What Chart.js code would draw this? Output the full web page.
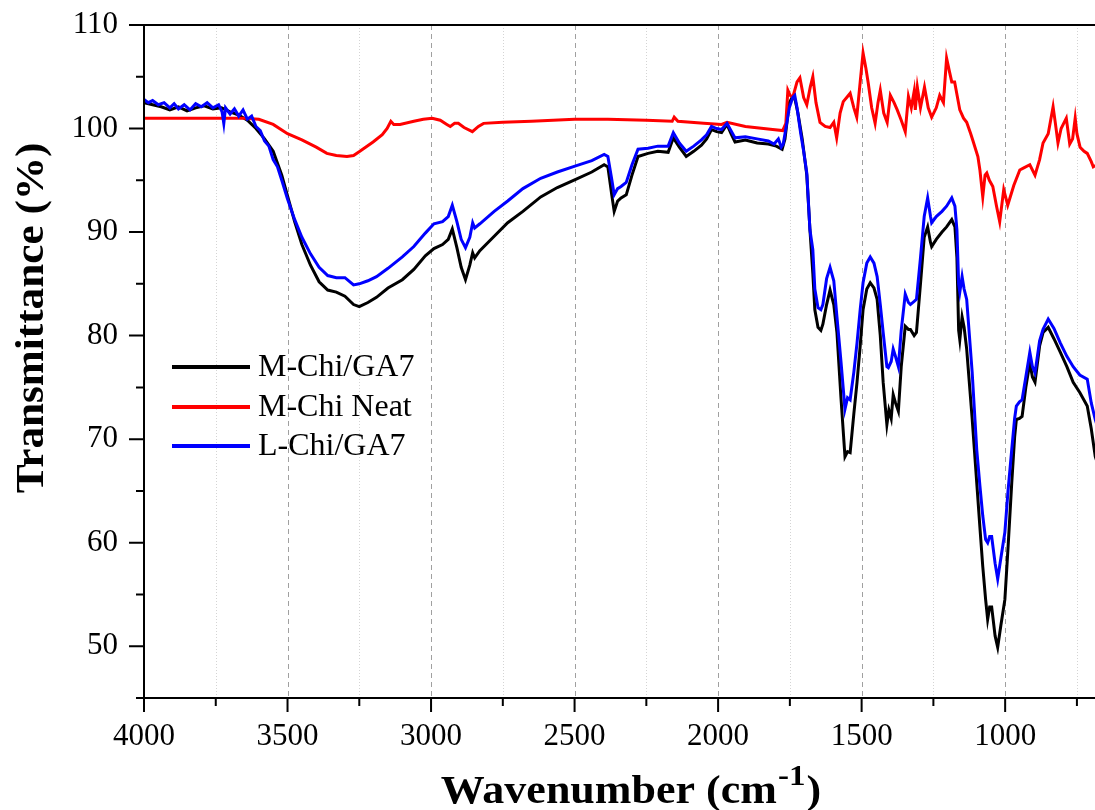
<!DOCTYPE html>
<html><head><meta charset="utf-8">
<script src="https://cdn.jsdelivr.net/npm/chart.js@4.4.0/dist/chart.umd.min.js"></script>
<style>html,body{margin:0;padding:0;background:#fff}#wrap{width:1095px;height:810px}</style>
</head><body><div id="wrap"><canvas id="c" width="1095" height="810"></canvas></div>
<script>
const seriesNames = ['M-Chi/GA7', 'M-Chi Neat', 'L-Chi/GA7'];
const xTitle = 'Wavenumber (cm';
const xTitleSup = '-1';
const yTitle = 'Transmittance (%)';

const xMajorTicks = [4000, 3500, 3000, 2500, 2000, 1500, 1000];
const xMinorTicks = [3750, 3250, 2750, 2250, 1750, 1250, 750];
const yMajorTicks = [50, 60, 70, 80, 90, 100, 110];
const yMinorTicks = [45, 55, 65, 75, 85, 95, 105];

// M-Chi/GA7 (black)
const wnBlack = [4000,3970,3940,3910,3880,3850,3820,3790,3760,3730,3700,3670,3640,3610,3580,3550,3520,3500,3475,3450,3420,3390,3360,3330,3300,3270,3250,3220,3190,3150,3100,3060,3020,2990,2960,2940,2926,2910,2895,2880,2865,2855,2848,2830,2780,2733,2680,2618,2560,2496,2440,2397,2384,2370,2362,2350,2338,2320,2300,2279,2244,2210,2174,2156,2135,2111,2085,2058,2040,2023,2005,1988,1969,1955,1941,1905,1864,1825,1797,1777,1767,1752,1742,1732,1722,1707,1691,1680,1670,1663,1652,1642,1635,1622,1610,1597,1586,1572,1558,1549,1540,1527,1516,1505,1495,1482,1470,1457,1446,1435,1425,1412,1405,1397,1390,1382,1372,1362,1348,1337,1330,1317,1309,1295,1282,1270,1260,1256,1240,1220,1204,1186,1175,1168,1162,1158,1150,1143,1134,1115,1099,1088,1078,1068,1061,1054,1047,1035,1026,1015,1001,990,977,967,961,950,941,928,914,905,896,880,868,850,830,808,785,763,740,714,700,686,676];
const tBlack = [102.5,102.3,102.1,101.8,102.1,101.7,102.0,102.2,101.9,102.0,101.6,101.3,100.8,100.0,99.0,97.8,95.5,93.5,91.0,88.8,86.8,85.2,84.4,84.2,83.8,83.0,82.8,83.2,83.7,84.6,85.4,86.4,87.7,88.4,88.8,89.3,90.3,88.5,86.6,85.4,86.8,88.0,87.5,88.2,89.6,90.9,92.0,93.4,94.3,95.1,95.8,96.5,96.3,93.5,92.0,93.0,93.3,93.6,95.5,97.3,97.6,97.8,97.7,99.1,98.2,97.3,97.8,98.4,99.0,99.9,99.7,99.6,100.4,99.5,98.7,98.9,98.6,98.5,98.3,98.0,99.0,102.5,103.0,102.8,101.5,99.0,95.5,90.2,86.0,82.5,80.8,80.5,81.1,83.0,84.4,83.0,80.3,74.0,68.3,68.8,68.7,72.5,75.5,79.0,82.5,84.5,85.1,84.6,83.5,80.0,75.5,71.4,72.8,72.0,74.3,73.5,72.7,77.0,80.9,80.6,80.6,80.0,80.3,85.0,89.5,90.5,89.0,88.6,89.3,90.0,90.5,91.2,90.5,87.5,80.5,79.6,81.8,80.8,78.7,72.0,65.8,61.5,57.7,54.5,52.6,53.8,53.8,51.0,49.9,52.0,54.5,59.5,65.8,70.2,71.9,72.0,72.2,75.0,77.4,76.0,75.5,79.0,80.3,80.8,79.7,78.4,77.0,75.5,74.5,73.2,71.0,68.3,67.5];

// M-Chi Neat (red)
const wnRed = [4000,3800,3650,3600,3550,3500,3450,3400,3363,3330,3293,3270,3248,3202,3170,3153,3140,3130,3108,3060,3027,2996,2968,2945,2933,2918,2905,2885,2856,2835,2817,2750,2650,2500,2384,2250,2160,2153,2140,2050,1988,1969,1905,1810,1775,1764,1757,1749,1740,1725,1715,1702,1691,1679,1670,1659,1645,1627,1610,1597,1587,1575,1564,1552,1540,1527,1517,1505,1495,1485,1477,1465,1453,1443,1435,1423,1411,1400,1387,1376,1362,1348,1337,1327,1317,1313,1306,1295,1281,1268,1256,1240,1228,1215,1204,1194,1186,1176,1158,1145,1134,1120,1113,1095,1088,1078,1070,1064,1055,1043,1030,1019,1005,991,970,949,935,914,896,880,868,850,833,825,816,805,787,775,765,756,750,739,725,714,700,693,680];
const tRed = [101.0,101.0,101.0,100.9,100.4,99.5,98.9,98.2,97.6,97.4,97.3,97.4,97.8,98.7,99.4,100.0,100.7,100.4,100.4,100.7,100.9,101.0,100.8,100.4,100.2,100.5,100.5,100.1,99.7,100.2,100.5,100.6,100.7,100.9,100.9,100.8,100.7,101.1,100.7,100.5,100.4,100.6,100.2,99.9,99.8,100.5,103.7,103.2,103.0,104.5,104.9,103.0,102.3,104.0,105.0,102.5,100.6,100.2,100.1,100.6,99.1,101.5,102.6,103.0,103.4,102.0,101.1,104.5,107.3,105.8,104.4,102.0,100.5,102.5,103.7,101.5,100.6,103.2,102.5,101.8,100.8,99.7,103.1,102.0,103.6,101.8,104.0,102.0,104.0,102.0,101.1,102.0,103.2,102.5,106.8,105.5,104.5,104.5,101.8,101.0,100.6,99.5,98.9,97.3,96.0,93.4,95.5,95.7,95.0,94.4,92.5,91.0,94.1,92.6,94.5,96.0,96.2,96.5,95.5,97.0,98.6,99.5,102.1,100.5,98.6,100.0,101.0,98.5,99.0,101.0,99.5,98.2,97.8,97.6,96.8,96.3,96.5];

// L-Chi/GA7 (blue)
const wnBlue = [4000,3985,3970,3950,3930,3910,3895,3880,3860,3840,3820,3800,3780,3760,3740,3728,3722,3716,3700,3685,3670,3655,3640,3625,3610,3595,3580,3565,3550,3535,3520,3500,3475,3450,3420,3390,3360,3330,3300,3270,3250,3220,3190,3150,3100,3060,3020,2990,2960,2940,2926,2910,2895,2880,2865,2855,2848,2830,2780,2733,2680,2618,2560,2496,2440,2397,2384,2370,2362,2350,2338,2320,2300,2279,2244,2210,2174,2156,2135,2111,2085,2058,2040,2023,2005,1988,1969,1955,1941,1905,1864,1825,1805,1790,1780,1773,1767,1752,1740,1733,1725,1712,1702,1691,1680,1670,1663,1652,1642,1635,1622,1610,1597,1586,1572,1558,1549,1540,1527,1516,1505,1495,1482,1470,1457,1446,1435,1425,1412,1407,1397,1390,1382,1372,1362,1348,1337,1330,1317,1309,1295,1282,1270,1260,1256,1240,1220,1204,1186,1175,1168,1162,1158,1150,1143,1134,1115,1099,1088,1078,1068,1061,1054,1047,1035,1026,1015,1001,990,977,967,961,950,941,928,914,905,896,880,868,850,830,808,785,763,740,714,700,686,676];
const tBlue = [102.8,102.5,102.7,102.3,102.5,102.0,102.4,101.9,102.3,101.8,102.4,102.1,102.5,102.0,102.3,101.6,100.5,102.0,101.4,101.9,101.2,101.8,100.9,101.2,100.2,99.8,98.8,98.3,97.0,96.3,95.0,93.2,91.2,89.5,87.9,86.6,85.8,85.6,85.6,84.9,85.0,85.3,85.7,86.5,87.6,88.6,89.9,90.8,91.0,91.5,92.6,91.0,89.3,88.5,89.5,90.9,90.4,90.8,92.0,93.0,94.2,95.2,95.8,96.4,96.9,97.5,97.3,95.0,93.6,94.2,94.4,94.8,96.5,98.0,98.1,98.3,98.3,99.6,98.6,97.8,98.3,98.9,99.4,100.2,100.0,99.9,100.5,99.8,99.1,99.2,99.0,98.8,98.5,99.0,98.2,98.5,99.5,102.0,103.0,103.2,102.0,99.5,97.8,95.7,90.2,88.3,84.5,82.7,82.5,83.0,85.5,86.6,85.3,81.8,77.5,72.9,74.0,73.8,76.5,79.3,82.5,85.1,87.0,87.6,87.0,85.7,83.0,80.3,77.0,76.9,77.5,78.7,78.0,77.0,80.5,84.0,83.2,83.0,83.3,83.5,87.5,91.5,93.3,91.5,90.9,91.5,92.0,92.5,93.3,92.5,90.2,85.0,84.2,85.7,84.5,83.5,76.5,69.0,65.5,62.6,60.3,60.0,60.6,60.6,58.0,56.5,58.5,61.0,65.0,69.0,72.0,73.2,73.6,73.8,76.0,78.4,77.0,76.4,79.5,80.6,81.6,80.7,79.3,78.0,77.0,76.2,75.8,73.5,71.9,71.0];

const seriesColors = ['#000000', '#ff0000', '#0000ff'];
const SERIF = '"Liberation Serif", "Times New Roman", serif';

function pts(xs, ys) { return xs.map((v, i) => ({ x: v, y: ys[i] })); }

const framePlugin = {
  id: 'frame',
  beforeDatasetsDraw(chart) {
    const { ctx, chartArea: a, scales: { x } } = chart;
    ctx.save();
    ctx.lineWidth = 1;
    ctx.strokeStyle = '#d4d4d4';
    ctx.setLineDash([1, 2]);
    xMinorTicks.forEach(v => {
      const p = Math.round(x.getPixelForValue(v)) + 0.5;
      ctx.beginPath(); ctx.moveTo(p, a.top); ctx.lineTo(p, a.bottom); ctx.stroke();
    });
    ctx.strokeStyle = '#a0a0a0';
    ctx.setLineDash([5, 4]);
    xMajorTicks.filter(v => v !== 4000).forEach(v => {
      const p = Math.round(x.getPixelForValue(v)) + 0.5;
      ctx.beginPath(); ctx.moveTo(p, a.top); ctx.lineTo(p, a.bottom); ctx.stroke();
    });
    ctx.restore();
  },
  afterDraw(chart) {
    const { ctx, chartArea: a, scales: { x, y } } = chart;
    ctx.save();
    ctx.strokeStyle = '#000';
    ctx.lineWidth = 2;
    ctx.setLineDash([]);
    ctx.beginPath();
    ctx.moveTo(a.left, a.top); ctx.lineTo(a.left, a.bottom);
    ctx.moveTo(a.left - 1, a.bottom); ctx.lineTo(a.right, a.bottom);
    ctx.moveTo(a.left - 15, a.top); ctx.lineTo(a.right, a.top);
    ctx.stroke();
    ctx.beginPath();
    yMajorTicks.forEach(v => { const p = y.getPixelForValue(v); ctx.moveTo(a.left - 15, p); ctx.lineTo(a.left, p); });
    yMinorTicks.forEach(v => { const p = y.getPixelForValue(v); ctx.moveTo(a.left - 8, p); ctx.lineTo(a.left, p); });
    xMajorTicks.forEach(v => { const p = x.getPixelForValue(v); ctx.moveTo(p, a.bottom); ctx.lineTo(p, a.bottom + 14); });
    xMinorTicks.forEach(v => { const p = x.getPixelForValue(v); ctx.moveTo(p, a.bottom); ctx.lineTo(p, a.bottom + 8); });
    ctx.stroke();

    // legend
    const legY = [367, 407, 446];
    ctx.lineWidth = 4;
    ctx.font = '32px ' + SERIF;
    ctx.textBaseline = 'middle';
    ctx.textAlign = 'left';
    seriesNames.forEach((n, i) => {
      ctx.strokeStyle = seriesColors[i];
      ctx.beginPath(); ctx.moveTo(172, legY[i]); ctx.lineTo(250, legY[i]); ctx.stroke();
      ctx.fillStyle = '#000';
      ctx.fillText(n, 258, legY[i] + 1);
    });

    // y title
    ctx.save();
    ctx.translate(33, 318);
    ctx.rotate(-Math.PI / 2);
    ctx.scale(1.08, 1);
    ctx.font = 'bold 40px ' + SERIF;
    ctx.textAlign = 'center';
    ctx.textBaseline = 'middle';
    ctx.fillStyle = '#000';
    ctx.fillText(yTitle, 0, 0);
    ctx.restore();

    // x title with superscript
    const mainFont = 'bold 40px ' + SERIF;
    const supFont = 'bold 30px ' + SERIF;
    const sxScale = 1.1;
    ctx.font = mainFont; const w1 = ctx.measureText(xTitle).width; const w3 = ctx.measureText(')').width;
    ctx.font = supFont; const w2 = ctx.measureText(xTitleSup).width + 2;
    const total = (w1 + w2 + w3) * sxScale;
    ctx.save();
    ctx.translate(631 - total / 2, 803);
    ctx.scale(sxScale, 1);
    let sx = 0;
    ctx.textBaseline = 'alphabetic';
    ctx.textAlign = 'left';
    ctx.fillStyle = '#000';
    ctx.font = mainFont; ctx.fillText(xTitle, sx, 0); sx += w1;
    ctx.font = supFont; ctx.fillText(xTitleSup, sx + 1, -18); sx += w2;
    ctx.font = mainFont; ctx.fillText(')', sx, 0);
    ctx.restore();
    ctx.restore();
  }
};

const ds = (label, xs, ys, color, order) => ({
  label, data: pts(xs, ys), borderColor: color, backgroundColor: color,
  borderWidth: 3, pointRadius: 0, tension: 0, fill: false, order
});

new Chart(document.getElementById('c'), {
  type: 'line',
  data: {
    datasets: [
      ds(seriesNames[0], wnBlack, tBlack, seriesColors[0], 3),
      ds(seriesNames[1], wnRed, tRed, seriesColors[1], 2),
      ds(seriesNames[2], wnBlue, tBlue, seriesColors[2], 1)
    ]
  },
  options: {
    responsive: false,
    animation: false,
    devicePixelRatio: 1,
    layout: { padding: { top: 25, right: 0, left: 0, bottom: 0 } },
    plugins: { legend: { display: false }, tooltip: { enabled: false } },
    scales: {
      x: {
        type: 'linear', reverse: true, min: 687, max: 4000,
        afterBuildTicks: s => { s.ticks = xMajorTicks.map(v => ({ value: v })); },
        afterFit: s => { s.height = 112; s.paddingLeft = 0; s.paddingRight = 0; },
        grid: { display: false, drawTicks: false },
        border: { display: false },
        ticks: { color: '#000', font: { family: SERIF, size: 31 }, padding: 20, maxRotation: 0, autoSkip: false, callback: v => String(v) }
      },
      y: {
        type: 'linear', min: 45, max: 110,
        afterBuildTicks: s => { s.ticks = yMajorTicks.map(v => ({ value: v })); },
        afterFit: s => { s.width = 144; s.paddingTop = 0; s.paddingBottom = 0; },
        grid: { display: false, drawTicks: false },
        border: { display: false },
        ticks: { color: '#000', font: { family: SERIF, size: 31 }, padding: 26, callback: v => String(v) }
      }
    }
  },
  plugins: [framePlugin]
});
</script>
</body></html>
